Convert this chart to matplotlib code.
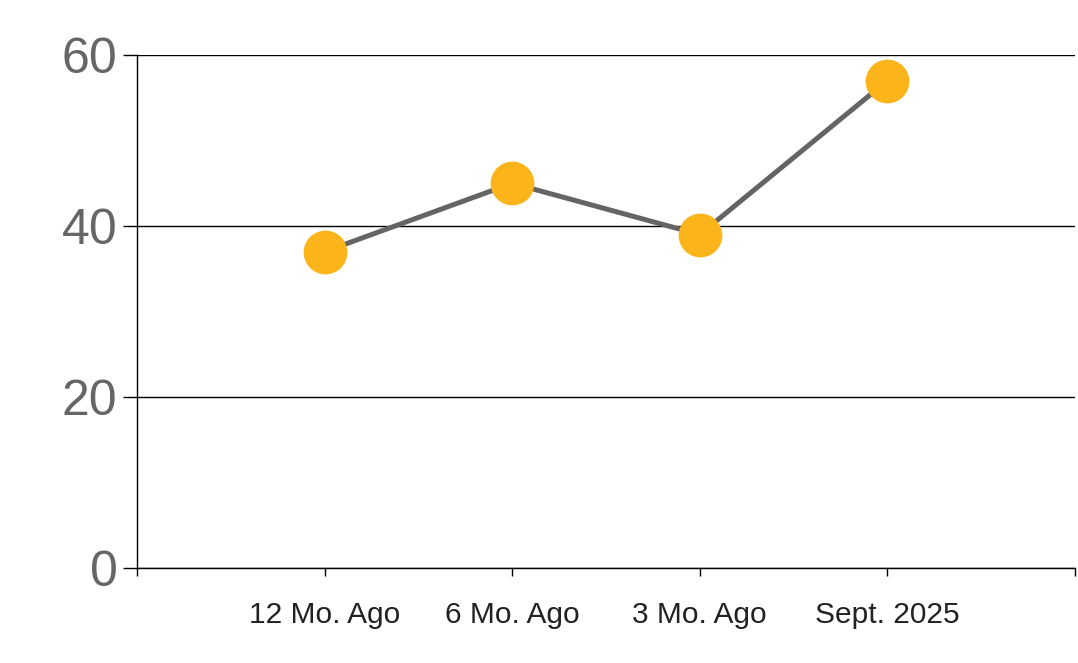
import matplotlib
matplotlib.use("Agg")
import matplotlib.pyplot as plt

plt.rcParams['font.family'] = ['Liberation Sans', 'DejaVu Sans']

categories = ["12 Mo. Ago", "6 Mo. Ago", "3 Mo. Ago", "Sept. 2025"]
values = [37, 45, 39, 57]
y_ticks = [0, 20, 40, 60]

fig = plt.figure(figsize=(10.78, 6.63), dpi=100)
ax = fig.add_axes([0.1271, 0.1433, 0.8701, 0.7737])

x = list(range(len(categories)))
ax.plot(x, values, color="#646464", lw=3.6, zorder=3)
ax.plot(x, values, "o", color="#FBB41A", markersize=31.5, markeredgewidth=0, zorder=4)

ax.set_xlim(-1, len(categories))
ax.set_ylim(0, 60)

# ticks at category borders too, labels only on categories
ax.set_xticks(range(-1, len(categories) + 1))
ax.set_xticklabels([""] + categories + [""], fontsize=21.5, color="#222222")
ax.tick_params(axis="x", length=6, width=1, color="black", pad=18)

ax.set_yticks(y_ticks)
ax.set_yticklabels([str(v) for v in y_ticks], fontsize=36, color="#666666")
ax.tick_params(axis="y", length=10, width=1, color="black", pad=4)
ax.yaxis.grid(True, color="black", lw=1)
ax.set_axisbelow(True)

for side in ["top", "right"]:
    ax.spines[side].set_visible(False)
ax.spines["left"].set_linewidth(1)
ax.spines["bottom"].set_linewidth(1)

fig.savefig("out.png", dpi=100)
